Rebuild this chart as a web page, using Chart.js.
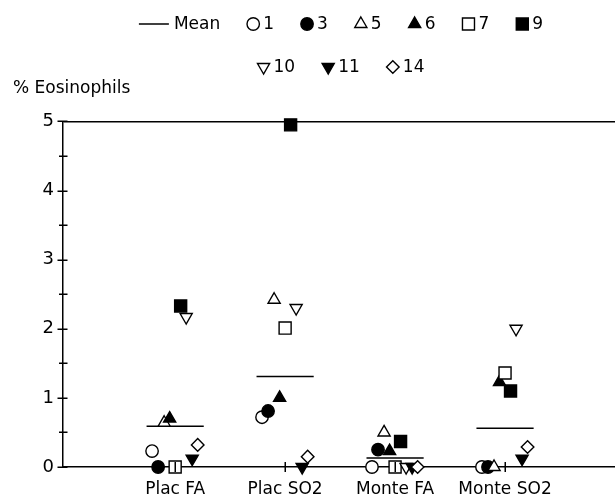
<!DOCTYPE html>
<html>
<head>
<meta charset="utf-8">
<script src="https://cdn.jsdelivr.net/npm/chart.js@4/dist/chart.umd.min.js"></script>
<style>
html, body { margin: 0; padding: 0; background: #fff; }
#wrap { width: 615px; height: 495px; position: relative; }
</style>
</head>
<body>
<div id="wrap"><canvas id="c"></canvas></div>
<script>
// ---- data ----
const categories = ['Plac FA', 'Plac SO2', 'Monte FA', 'Monte SO2'];
const subjects = ['1', '3', '5', '6', '7', '9', '10', '11', '14'];
const subj1  = [0.23, 0.72, 0.00, 0.00];
const subj3  = [0.00, 0.81, 0.25, 0.00];
const subj5  = [0.64, 2.42, 0.50, 0.00];
const subj6  = [0.70, 1.00, 0.23, 1.23];
const subj7  = [0.00, 2.01, 0.00, 1.36];
const subj9  = [2.33, 4.95, 0.37, 1.10];
const subj10 = [2.17, 2.30, 0.00, 2.00];
const subj11 = [0.12, 0.00, 0.00, 0.12];
const subj14 = [0.32, 0.15, 0.00, 0.29];
const means  = [0.59, 1.31, 0.13, 0.56];
const yTickValues = [0, 1, 2, 3, 4, 5];
const yMinorValues = [0.5, 1.5, 2.5, 3.5, 4.5];

const subjectValues = [subj1, subj3, subj5, subj6, subj7, subj9, subj10, subj11, subj14];

// ---- styles (marker shape, fill, jitter) ----
const markerStyles = [
  { style: 'circle',   filled: false, rot: 0,   r: 6.2 },
  { style: 'circle',   filled: true,  rot: 0,   r: 6.2 },
  { style: 'triangle', filled: false, rot: 0,   r: 7   },
  { style: 'triangle', filled: true,  rot: 0,   r: 7   },
  { style: 'rect',     filled: false, rot: 0,   r: 8.5 },
  { style: 'rect',     filled: true,  rot: 0,   r: 8.5 },
  { style: 'triangle', filled: false, rot: 180, r: 7   },
  { style: 'triangle', filled: true,  rot: 180, r: 7   },
  { style: 'rectRot',  filled: false, rot: 0,   r: 6.3 }
];
const jitter = [-0.21, -0.155, -0.1, -0.05, 0, 0.05, 0.1, 0.155, 0.205];
const meanHalfWidth = 0.26;
const FONT = '"DejaVu Sans", "Liberation Sans", sans-serif';

const datasets = [];
datasets.push({
  type: 'line',
  label: 'Mean',
  data: means.flatMap((m, c) => [
    { x: c + 1 - meanHalfWidth, y: m },
    { x: c + 1 + meanHalfWidth, y: m },
    { x: c + 1.5, y: null }
  ]),
  borderColor: '#000',
  borderWidth: 1.5,
  pointRadius: 0,
  spanGaps: false,
  clip: false,
  order: 0
});
subjects.forEach((s, i) => {
  const st = markerStyles[i];
  datasets.push({
    type: 'scatter',
    label: s,
    data: subjectValues[i].map((v, c) => ({ x: c + 1 + jitter[i], y: v })),
    pointStyle: st.style,
    rotation: st.rot,
    pointRadius: st.r,
    pointHoverRadius: st.r,
    pointBorderWidth: 1.4,
    borderColor: '#000',
    pointBorderColor: '#000',
    pointBackgroundColor: st.filled ? '#000' : '#fff',
    backgroundColor: st.filled ? '#000' : '#fff',
    clip: false,
    order: -(i + 1)
  });
});

// two-row legend drawn from the datasets' own styles
const rowLegend = {
  id: 'rowLegend',
  afterDraw(chart, args, opts) {
    const ctx = chart.ctx;
    ctx.save();
    ctx.font = opts.font;
    ctx.textBaseline = 'middle';
    ctx.textAlign = 'left';
    ctx.fillStyle = '#000';
    const items = chart.data.datasets.map(ds => {
      const isLine = ds.type === 'line';
      const mw = isLine ? opts.lineLen : opts.markerW;
      const gap = isLine ? 5 : 4;
      return { ds, isLine, mw, gap, w: mw + gap + ctx.measureText(ds.label).width };
    });
    let idx = 0;
    opts.rows.forEach((count, r) => {
      const rowItems = items.slice(idx, idx + count);
      idx += count;
      const total = rowItems.reduce((a, it) => a + it.w, 0) + opts.itemGap * (rowItems.length - 1);
      let x = opts.centerX - total / 2;
      const y = opts.rowY[r];
      rowItems.forEach(it => {
        if (it.isLine) {
          ctx.strokeStyle = '#000';
          ctx.lineWidth = 1.5;
          ctx.beginPath();
          ctx.moveTo(x, y);
          ctx.lineTo(x + it.mw, y);
          ctx.stroke();
        } else {
          const ds = it.ds;
          ctx.fillStyle = ds.pointBackgroundColor;
          ctx.strokeStyle = '#000';
          ctx.lineWidth = ds.pointBorderWidth;
          Chart.helpers.drawPoint(ctx, {
            pointStyle: ds.pointStyle,
            rotation: ds.rotation,
            radius: ds.pointRadius,
            borderWidth: ds.pointBorderWidth
          }, x + it.mw / 2, y);
        }
        ctx.fillStyle = '#000';
        ctx.fillText(it.ds.label, x + it.mw + it.gap, y + 1);
        x += it.w + opts.itemGap;
      });
    });
    ctx.restore();
  }
};

// ticks that cross the axes
const crossTicks = {
  id: 'crossTicks',
  afterDraw(chart) {
    const ctx = chart.ctx;
    const xs = chart.scales.x, ys = chart.scales.y;
    const a = chart.chartArea;
    ctx.save();
    ctx.strokeStyle = '#000';
    ctx.lineWidth = 1.5;
    ctx.beginPath();
    yTickValues.forEach(v => {
      const p = Math.round(ys.getPixelForValue(v)) + 0.25;
      ctx.moveTo(a.left - 5.5, p); ctx.lineTo(a.left + 4.5, p);
    });
    yMinorValues.forEach(v => {
      const p = Math.round(ys.getPixelForValue(v)) + 0.25;
      ctx.moveTo(a.left - 4, p); ctx.lineTo(a.left + 4.5, p);
    });
    categories.forEach((c, i) => {
      const p = Math.round(xs.getPixelForValue(i + 1)) + 0.25;
      ctx.moveTo(p, a.bottom - 5); ctx.lineTo(p, a.bottom + 5);
    });
    ctx.stroke();
    ctx.restore();
  }
};

new Chart(document.getElementById('c'), {
  type: 'scatter',
  data: { datasets },
  plugins: [crossTicks, rowLegend],
  options: {
    responsive: true,
    maintainAspectRatio: false,
    animation: false,
    events: [],
    layout: { autoPadding: false, padding: { left: 13, right: 0, top: 0, bottom: 0 } },
    plugins: {
      legend: { display: false },
      tooltip: { enabled: false },
      title: {
        display: true,
        text: '% Eosinophils',
        align: 'start',
        color: '#000',
        font: { family: FONT, size: 17, weight: 'normal', lineHeight: 1.2 },
        padding: { top: 78, bottom: 23 }
      },
      rowLegend: {
        font: '17px ' + FONT,
        rows: [7, 3],
        rowY: [24, 67],
        centerX: 341,
        markerW: 12,
        lineLen: 30,
        itemGap: 27
      }
    },
    scales: {
      x: {
        type: 'linear',
        min: -0.02,
        max: 5,
        z: 1,
        afterBuildTicks: (s) => { s.ticks = categories.map((c, i) => ({ value: i + 1 })); },
        afterFit: (s) => { s.height = 28; s.paddingLeft = 0; s.paddingRight = 0; },
        ticks: {
          autoSkip: false,
          maxRotation: 0,
          color: '#000',
          padding: 12,
          font: { family: FONT, size: 17 },
          callback: (v) => categories[v - 1]
        },
        grid: { display: false, drawTicks: false },
        border: { display: true, color: '#000', width: 1.5 }
      },
      y: {
        type: 'linear',
        min: 0,
        max: 5,
        z: 1,
        afterBuildTicks: (s) => { s.ticks = yTickValues.map(v => ({ value: v })); },
        afterFit: (s) => { s.width = 50; },
        ticks: {
          color: '#000',
          padding: 9,
          font: { family: FONT, size: 18 },
          callback: (v) => String(v)
        },
        grid: {
          drawTicks: false,
          lineWidth: 1.5,
          color: (c) => (c.tick && c.tick.value === 5 ? '#000' : 'rgba(0,0,0,0)')
        },
        border: { display: true, color: '#000', width: 1.5 }
      }
    }
  }
});
</script>
</body>
</html>
